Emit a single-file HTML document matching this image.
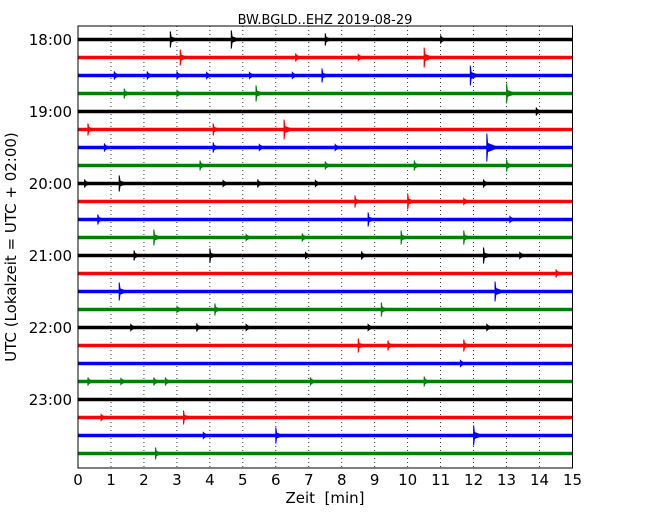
<!DOCTYPE html>
<html><head><meta charset="utf-8"><style>
body{margin:0;background:#fff}
svg text{font-family:"DejaVu Sans","Liberation Sans",sans-serif;fill:#000}
</style></head><body>
<svg id="c" width="650" height="520" xmlns="http://www.w3.org/2000/svg">
<rect x="0" y="0" width="650" height="520" fill="#fff"/>
<text x="325" y="24" font-size="13" text-anchor="middle">BW.BGLD..EHZ 2019-08-29</text>
<text x="325" y="503" font-size="15" text-anchor="middle">Zeit&#160; [min]</text>
<text transform="translate(16,247) rotate(-90)" font-size="15" text-anchor="middle">UTC (Lokalzeit = UTC + 02:00)</text>
<g id="grid"></g>
<g id="traces"></g>
<g id="axes"></g>
<rect x="78" y="26" width="494.5" height="442" fill="none" stroke="#000" stroke-width="1"/>
</svg>
<script>
const xTicks=[0,1,2,3,4,5,6,7,8,9,10,11,12,13,14,15];
const rowLabels=["18:00","19:00","20:00","21:00","22:00","23:00"];
const rowColors=["#000","#f00","#00f","#008000"];
const eventRows=[0,0,0,0,1,1,1,1,2,2,2,2,2,2,2,2,3,3,3,3,4,5,5,5,6,6,6,6,6,7,7,7,7,8,8,8,8,8,8,9,9,9,10,10,10,11,11,11,11,11,12,12,12,12,12,12,13,14,14,15,15,15,16,16,16,16,16,17,17,17,18,19,19,19,19,19,19,21,21,22,22,22,23];
const eventMinutes=[2.8,4.65,7.5,11,3.1,6.6,8.5,10.5,1.1,2.1,3.0,5.2,6.5,7.4,11.9,3.9,1.4,3.0,5.4,13.0,13.9,0.3,4.1,6.25,0.8,4.1,5.5,12.4,7.8,3.7,7.5,10.2,13.0,0.2,1.25,4.4,5.45,7.2,12.3,8.4,10.0,11.7,0.6,8.8,13.1,2.3,5.1,6.8,9.8,11.7,1.7,4.0,6.9,8.6,12.3,13.4,14.5,1.25,12.65,3.0,4.15,9.2,1.6,3.6,5.1,8.8,12.4,8.5,9.4,11.7,11.6,0.3,1.3,2.3,2.65,7.05,10.5,0.7,3.2,3.8,6.0,12.0,2.35];
const eventAmps=[8,9,6,4,8,4,3,10,4,4,4,3,3,7,10,3,5,3,8,10,4,6,6,10,4,5,3,14,3,5,4,5,6,4,8,3,4,3,4,6,8,3,5,7,3,8,3,4,7,7,5,7,3,4,8,3,4,9,10,3,6,7,3,4,3,3,3,7,5,6,3,4,3,4,4,4,5,3,7,3,8,10,6];
const NS="http://www.w3.org/2000/svg";
const X0=78,X1=572.5,Y0=39.5,DY=18,NROWS=24;
const xs=m=>X0+(X1-X0)*m/15;
const ys=r=>Y0+r*DY;
const grid=document.getElementById('grid'),tr=document.getElementById('traces'),ax=document.getElementById('axes');
for(let i=1;i<15;i++){
  const l=document.createElementNS(NS,'line');
  
  
  l.setAttribute('x1',xs(xTicks[i]));l.setAttribute('x2',xs(xTicks[i]));
  l.setAttribute('y1',26);l.setAttribute('y2',468);
  l.setAttribute('stroke','#000');l.setAttribute('stroke-width','0.8');l.setAttribute('stroke-dasharray','1,3');
  grid.appendChild(l);
}
xTicks.forEach(t=>{
  const tx=document.createElementNS(NS,'text');
  
  
  tx.setAttribute('x',xs(t));tx.setAttribute('y',485);tx.setAttribute('font-size','15');tx.setAttribute('text-anchor','middle');
  tx.textContent=t;ax.appendChild(tx);
});
for(let r=0;r<NROWS;r++){
  const l=document.createElementNS(NS,'line');
  
  
  l.setAttribute('x1',X0);l.setAttribute('x2',X1);l.setAttribute('y1',ys(r));l.setAttribute('y2',ys(r));
  l.setAttribute('stroke',rowColors[r%4]);l.setAttribute('stroke-width','3.5');
  tr.appendChild(l);
  if(r%4===0){
    const tx=document.createElementNS(NS,'text');
    
    
    tx.setAttribute('x',72);tx.setAttribute('y',ys(r)+5.5);tx.setAttribute('font-size','15');tx.setAttribute('text-anchor','end');
    tx.textContent=rowLabels[r/4];ax.appendChild(tx);
  }
}
for(let i=0;i<eventRows.length;i++){
  const r=eventRows[i],x=xs(eventMinutes[i]),y=ys(r),a=eventAmps[i];
  const w=3+a*0.6,h=Math.max(2.2,a*0.3);
  const p=document.createElementNS(NS,'path');
  
  
  p.setAttribute('d',`M${x},${y-a} L${x+0.8},${y-h} L${x+w},${y} L${x+0.8},${y+h} L${x},${y+a} Z`);
  p.setAttribute('fill',rowColors[r%4]);p.setAttribute('stroke',rowColors[r%4]);p.setAttribute('stroke-width','1');
  tr.appendChild(p);
}
</script>
</body></html>
